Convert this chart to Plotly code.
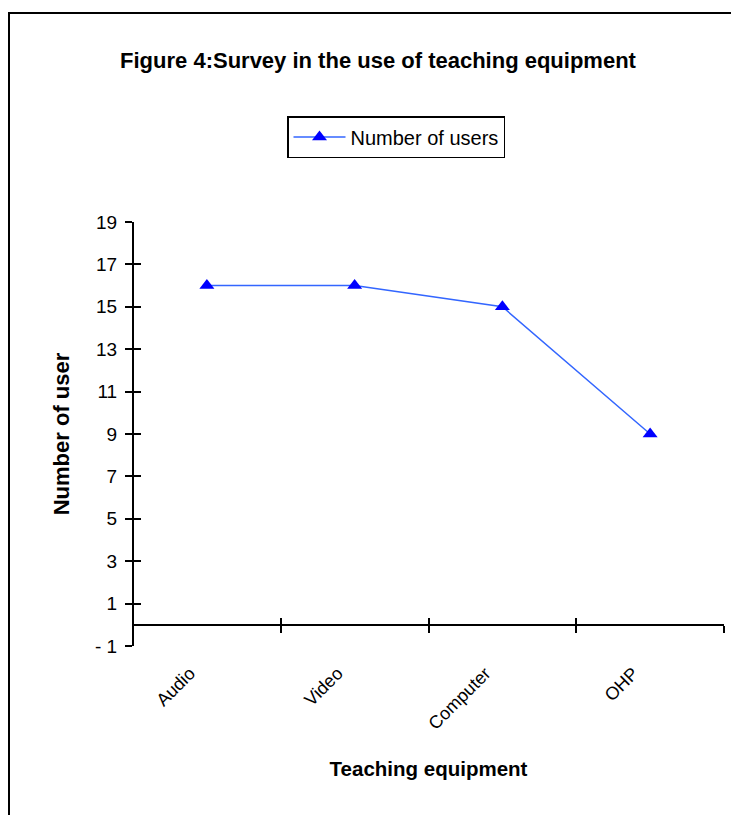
import plotly.graph_objects as go

categories = ["Audio", "Video", "Computer", "OHP"]
users = [16, 16, 15, 9]
ytick_vals = [-1, 1, 3, 5, 7, 9, 11, 13, 15, 17, 19]
ytick_text = ["- 1", "1", "3", "5", "7", "9", "11", "13", "15", "17", "19"]

FONT = "Liberation Sans, Arial, sans-serif"

fig = go.Figure()
fig.add_trace(go.Scatter(
    x=categories, y=users, mode="lines+markers", name="Number of users",
    line=dict(color="#3366FF", width=1.5),
    marker=dict(symbol="triangle-up", size=13, color="#0000FF"),
))
# helper trace so the overlay axes (for crossing tick marks) get drawn
fig.add_trace(go.Scatter(
    x=categories, y=users, mode="none", showlegend=False, hoverinfo="skip",
    xaxis="x2", yaxis="y2",
))

xcommon = dict(type="category", categoryorder="array", categoryarray=categories,
               range=[-0.5, 3.5], anchor="free", position=0.05,
               tickson="boundaries", ticklen=7, tickwidth=2, tickcolor="black",
               showgrid=False, zeroline=False, fixedrange=True)
ycommon = dict(range=[-1, 19], tickmode="array", tickvals=ytick_vals,
               anchor="free", position=0, domain=[0, 1],
               ticklen=7, tickwidth=2, tickcolor="black",
               showgrid=False, zeroline=False, fixedrange=True)

fig.update_layout(
    width=731, height=815,
    margin=dict(l=133, r=7, t=222, b=169),
    paper_bgcolor="white", plot_bgcolor="white",
    font=dict(family=FONT, color="black", size=18),
    title=dict(text="<b>Figure 4:Survey in the use of teaching equipment</b>",
               x=378 / 731, xref="container", xanchor="center",
               y=1 - 60 / 815, yref="container", yanchor="middle",
               font=dict(size=22, family=FONT, color="black")),
    xaxis=dict(**xcommon, ticks="outside", showline=True, linecolor="black",
               linewidth=2, tickangle=-45, ticklabelstandoff=30,
               ticklabelshift=-17,
               tickfont=dict(size=18, family=FONT),
               title=dict(text="<b>Teaching equipment</b>", standoff=28,
                          font=dict(size=20.5, family=FONT))),
    xaxis2=dict(**xcommon, overlaying="x", ticks="inside", showline=False,
                showticklabels=False),
    yaxis=dict(**ycommon, ticktext=ytick_text, ticks="outside", showline=True,
               linecolor="black", linewidth=2, ticklabelstandoff=4,
               tickfont=dict(size=19, family=FONT),
               title=dict(text="<b>Number of user</b>", standoff=18,
                          font=dict(size=22, family=FONT))),
    yaxis2=dict(**ycommon, overlaying="y", ticks="inside", showline=False,
                showticklabels=False),
    showlegend=True,
    legend=dict(x=(396 - 133) / 591, y=(646 - 137) / 424, xanchor="center",
                yanchor="middle", bordercolor="black", borderwidth=1.5,
                bgcolor="white", font=dict(size=20, family=FONT),
                orientation="h", itemwidth=52),
    shapes=[dict(type="rect", xref="paper", yref="paper",
                 x0=(9 - 133) / 591, x1=1.2, y0=-0.6, y1=(646 - 13) / 424,
                 line=dict(color="black", width=2), fillcolor="rgba(0,0,0,0)",
                 layer="below")],
)

fig.write_html("out.html",
               config={"displayModeBar": False},
               post_script="document.body.style.margin='0';"
                           "document.body.style.overflow='hidden';")
